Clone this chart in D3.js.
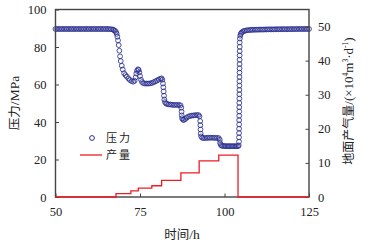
<html>
<head>
<meta charset="utf-8">
<script src="https://d3js.org/d3.v7.min.js"></script>
<style>
  body { margin: 0; background: #fff; }
  .num { font-family: "Liberation Serif", "DejaVu Serif", serif; }
  .cjk { font-family: "Noto Sans CJK SC", sans-serif; }
</style>
</head>
<body>
<svg id="chart" width="368" height="247"></svg>
<script>
// time (h), pressure (MPa)
var pressure = [
  [50,89.6],[50.5,89.6],[51,89.6],[51.5,89.6],[52,89.6],[52.5,89.6],[53,89.6],[53.5,89.6],
  [54,89.6],[54.5,89.6],[55,89.6],[55.5,89.6],[56,89.6],[56.5,89.6],[57,89.6],[57.5,89.6],
  [58,89.6],[58.5,89.6],[59,89.6],[59.5,89.6],[60,89.6],[60.5,89.6],[61,89.6],[61.5,89.6],
  [62,89.6],[62.5,89.6],[63,89.6],[63.5,89.6],[64,89.6],[64.5,89.6],[65,89.6],[65.5,89.6],
  [66,89.5],[66.5,89.5],[67,89.3],[67.3,89.0],[67.6,88.6],[67.9,88.0],[68.1,87.0],[68.3,85.5],
  [68.5,83.5],[68.7,81.0],[68.9,78.0],[69.1,75.0],[69.3,72.5],[69.6,70.0],[69.9,68.0],[70.3,66.0],
  [70.7,65.0],[71.1,64.2],[71.6,63.2],[72.0,62.4],[72.5,61.8],[73.0,61.5],[73.4,62.0],[73.7,63.8],
  [73.9,65.8],[74.1,67.3],[74.4,68.1],[74.6,67.8],[74.8,66.5],[75.0,64.5],[75.3,62.5],[75.6,61.3],
  [76.0,60.7],[76.5,60.5],[77.0,60.5],[77.5,60.5],[78.0,60.6],[78.5,60.8],[79.0,61.2],[79.5,61.6],
  [80.0,62.1],[80.5,62.6],[81.0,63.0],[81.4,63.3],[81.6,62.5],[81.8,60.5],[81.9,58.5],[82.0,56.3],
  [82.1,54.0],[82.2,52.0],[82.4,50.6],[82.7,49.9],[83.0,49.6],[83.5,49.4],[84.0,49.3],[84.5,49.2],
  [85.0,49.1],[85.5,49.1],[86.0,49.1],[86.5,49.1],[87.0,48.9],[87.2,47.6],[87.3,45.5],[87.35,43.5],
  [87.45,42.0],[87.7,41.2],[88.0,41.1],[88.4,41.6],[88.8,42.3],[89.3,42.9],[89.8,43.2],[90.3,43.4],
  [90.8,43.5],[91.3,43.6],[91.8,43.7],[92.3,43.7],[92.6,43.0],[92.8,40.5],[92.85,38.3],[92.9,36.0],
  [92.95,33.8],[93.1,32.3],[93.4,31.6],[93.8,31.4],[94.3,31.5],[94.8,31.5],[95.3,31.6],[95.8,31.6],
  [96.3,31.6],[96.8,31.6],[97.3,31.5],[97.8,31.5],[98.3,31.4],[98.6,30.5],[98.7,28.8],[98.9,27.8],
  [99.2,27.3],[99.6,27.2],[100.0,27.2],[100.4,27.1],[100.8,27.1],[101.2,27.1],[101.6,27.1],[102.0,27.1],
  [102.4,27.1],[102.8,27.1],[103.2,27.1],[103.6,27.1],[104.0,27.1],[104.2,27.5],
  [104.3,29.5],[104.3,31.8],[104.31,34.1],[104.32,36.4],[104.33,38.7],[104.34,41.0],[104.35,43.3],
  [104.36,45.6],[104.37,47.9],[104.38,50.2],[104.39,52.5],[104.4,54.8],[104.4,57.1],[104.41,59.4],
  [104.42,61.7],[104.43,64.0],[104.44,66.3],[104.45,68.6],[104.46,70.9],[104.47,73.2],[104.48,75.5],
  [104.49,77.8],[104.5,80.1],[104.5,82.4],[104.55,84.5],[104.65,86.0],[104.8,87.0],[105.0,87.6],
  [105.3,88.1],[105.7,88.5],[106.1,88.7],[106.6,88.9],[107.1,89.0],[107.6,89.1],[108,89.15],
  [108.5,89.2],[109,89.2],[109.5,89.25],[110,89.25],[110.5,89.3],[111,89.3],[111.5,89.3],[112,89.35],
  [112.5,89.35],[113,89.4],[113.5,89.4],[114,89.4],[114.5,89.4],[115,89.45],[115.5,89.45],[116,89.45],
  [116.5,89.5],[117,89.5],[117.5,89.5],[118,89.5],[118.5,89.5],[119,89.5],[119.5,89.55],[120,89.55],
  [120.5,89.55],[121,89.55],[121.5,89.6],[122,89.6],[122.5,89.6],[123,89.6],[123.5,89.6],[124,89.6],
  [124.5,89.6],[125,89.6]
];

// step changes of gas rate: time (h), rate (1e4 m3/d)
var rateTimes = [50, 67.9, 72.3, 74.5, 78.5, 81.4, 87.1, 92.5, 98.3, 104.0, 125];
var rateValues = [0, 1.0, 1.8, 2.6, 3.3, 4.9, 7.1, 10.6, 12.3, 0, 0];

var xTicks = [50, 75, 100, 125];
var yLeftTicks = [0, 20, 40, 60, 80, 100];
var yRightTicks = [0, 10, 20, 30, 40, 50];

var svg = d3.select("#chart");
var L = 55.5, R = 309, T = 9.5, B = 197;

var x = d3.scaleLinear().domain([50, 125]).range([L, R]);
var y = d3.scaleLinear().domain([0, 100]).range([B, T]);
var y2 = d3.scaleLinear().domain([0, 55]).range([B, T]);

var blue = "#2b2f8e", red = "#ee1c24";

// pressure markers
svg.append("g").selectAll("circle").data(pressure).enter().append("circle")
    .attr("cx", d => x(d[0])).attr("cy", d => y(d[1]))
    .attr("r", 2.4).attr("fill", "none")
    .attr("stroke", blue).attr("stroke-width", 0.85);

var rate = rateTimes.map((t, i) => [t, rateValues[i]]);
var rateLine = d3.line().x(d => x(d[0])).y(d => y2(d[1])).curve(d3.curveStepAfter);

// axes (ticks inward)
var gx = svg.append("g").attr("transform", "translate(0," + B + ")")
    .call(d3.axisBottom(x).tickValues(xTicks).tickSizeInner(-3.5).tickSizeOuter(0).tickPadding(10));
var gl = svg.append("g").attr("transform", "translate(" + L + ",0)")
    .call(d3.axisLeft(y).tickValues(yLeftTicks).tickSizeInner(-3.5).tickSizeOuter(0).tickPadding(9));
var gr = svg.append("g").attr("transform", "translate(" + R + ",0)")
    .call(d3.axisRight(y2).tickValues(yRightTicks).tickSizeInner(-3.5).tickSizeOuter(0).tickPadding(9));
[gx, gl, gr].forEach(g => {
  g.attr("font-family", null);
  g.select(".domain").remove();
  g.selectAll(".tick line").attr("stroke", "#444").attr("stroke-width", 1);
  g.selectAll(".tick text").attr("class", "num").attr("font-size", 12.5).attr("fill", "#222");
});
gx.selectAll(".tick text").attr("dy", "0.75em");

// frame
svg.append("rect").attr("x", L).attr("y", T).attr("width", R - L).attr("height", B - T)
    .attr("fill", "none").attr("stroke", "#444").attr("stroke-width", 1.4);

// gas rate step line (zero parts lie on the bottom frame)
svg.append("path").datum(rate).attr("d", rateLine)
    .attr("fill", "none").attr("stroke", red).attr("stroke-width", 1.3);

// axis titles
var lt = svg.append("text").attr("font-size", 12.5).attr("fill", "#222")
    .attr("text-anchor", "middle")
    .attr("transform", "translate(19,103) rotate(-90)");
lt.append("tspan").attr("class", "cjk").text("压力");
lt.append("tspan").attr("class", "num").attr("font-size", 13.5).text("/MPa");

var rt = svg.append("text").attr("font-size", 12).attr("fill", "#222")
    .attr("text-anchor", "middle")
    .attr("transform", "translate(353,101) rotate(-90)");
rt.append("tspan").attr("class", "cjk").text("地面产气量");
rt.append("tspan").attr("class", "num").attr("font-size", 13).text("/(×10");
rt.append("tspan").attr("class", "num").attr("font-size", 7.5).attr("dy", -5).text("4");
rt.append("tspan").attr("class", "num").attr("font-size", 13).attr("dy", 5).text("m");
rt.append("tspan").attr("class", "num").attr("font-size", 7.5).attr("dy", -5).text("3");
rt.append("tspan").attr("class", "num").attr("font-size", 13).attr("dy", 5).text("·d");
rt.append("tspan").attr("class", "num").attr("font-size", 7.5).attr("dy", -5).text("-1");
rt.append("tspan").attr("class", "num").attr("font-size", 13).attr("dy", 5).text(")");

var xt = svg.append("text").attr("font-size", 12.5).attr("fill", "#222")
    .attr("text-anchor", "middle").attr("x", 182).attr("y", 239);
xt.append("tspan").attr("class", "cjk").text("时间");
xt.append("tspan").attr("class", "num").attr("font-size", 13.5).text("/h");

// legend
var lg = svg.append("g");
lg.append("circle").attr("cx", 92).attr("cy", 138).attr("r", 2.4)
    .attr("fill", "none").attr("stroke", blue).attr("stroke-width", 1);
lg.append("text").attr("class", "cjk").attr("font-size", 11).attr("fill", "#222")
    .attr("letter-spacing", 2).attr("x", 106).attr("y", 142).text("压力");
lg.append("line").attr("x1", 80).attr("x2", 102).attr("y1", 155).attr("y2", 155)
    .attr("stroke", red).attr("stroke-width", 1.3);
lg.append("text").attr("class", "cjk").attr("font-size", 11).attr("fill", "#222")
    .attr("letter-spacing", 2).attr("x", 106).attr("y", 159).text("产量");
</script>
</body>
</html>
